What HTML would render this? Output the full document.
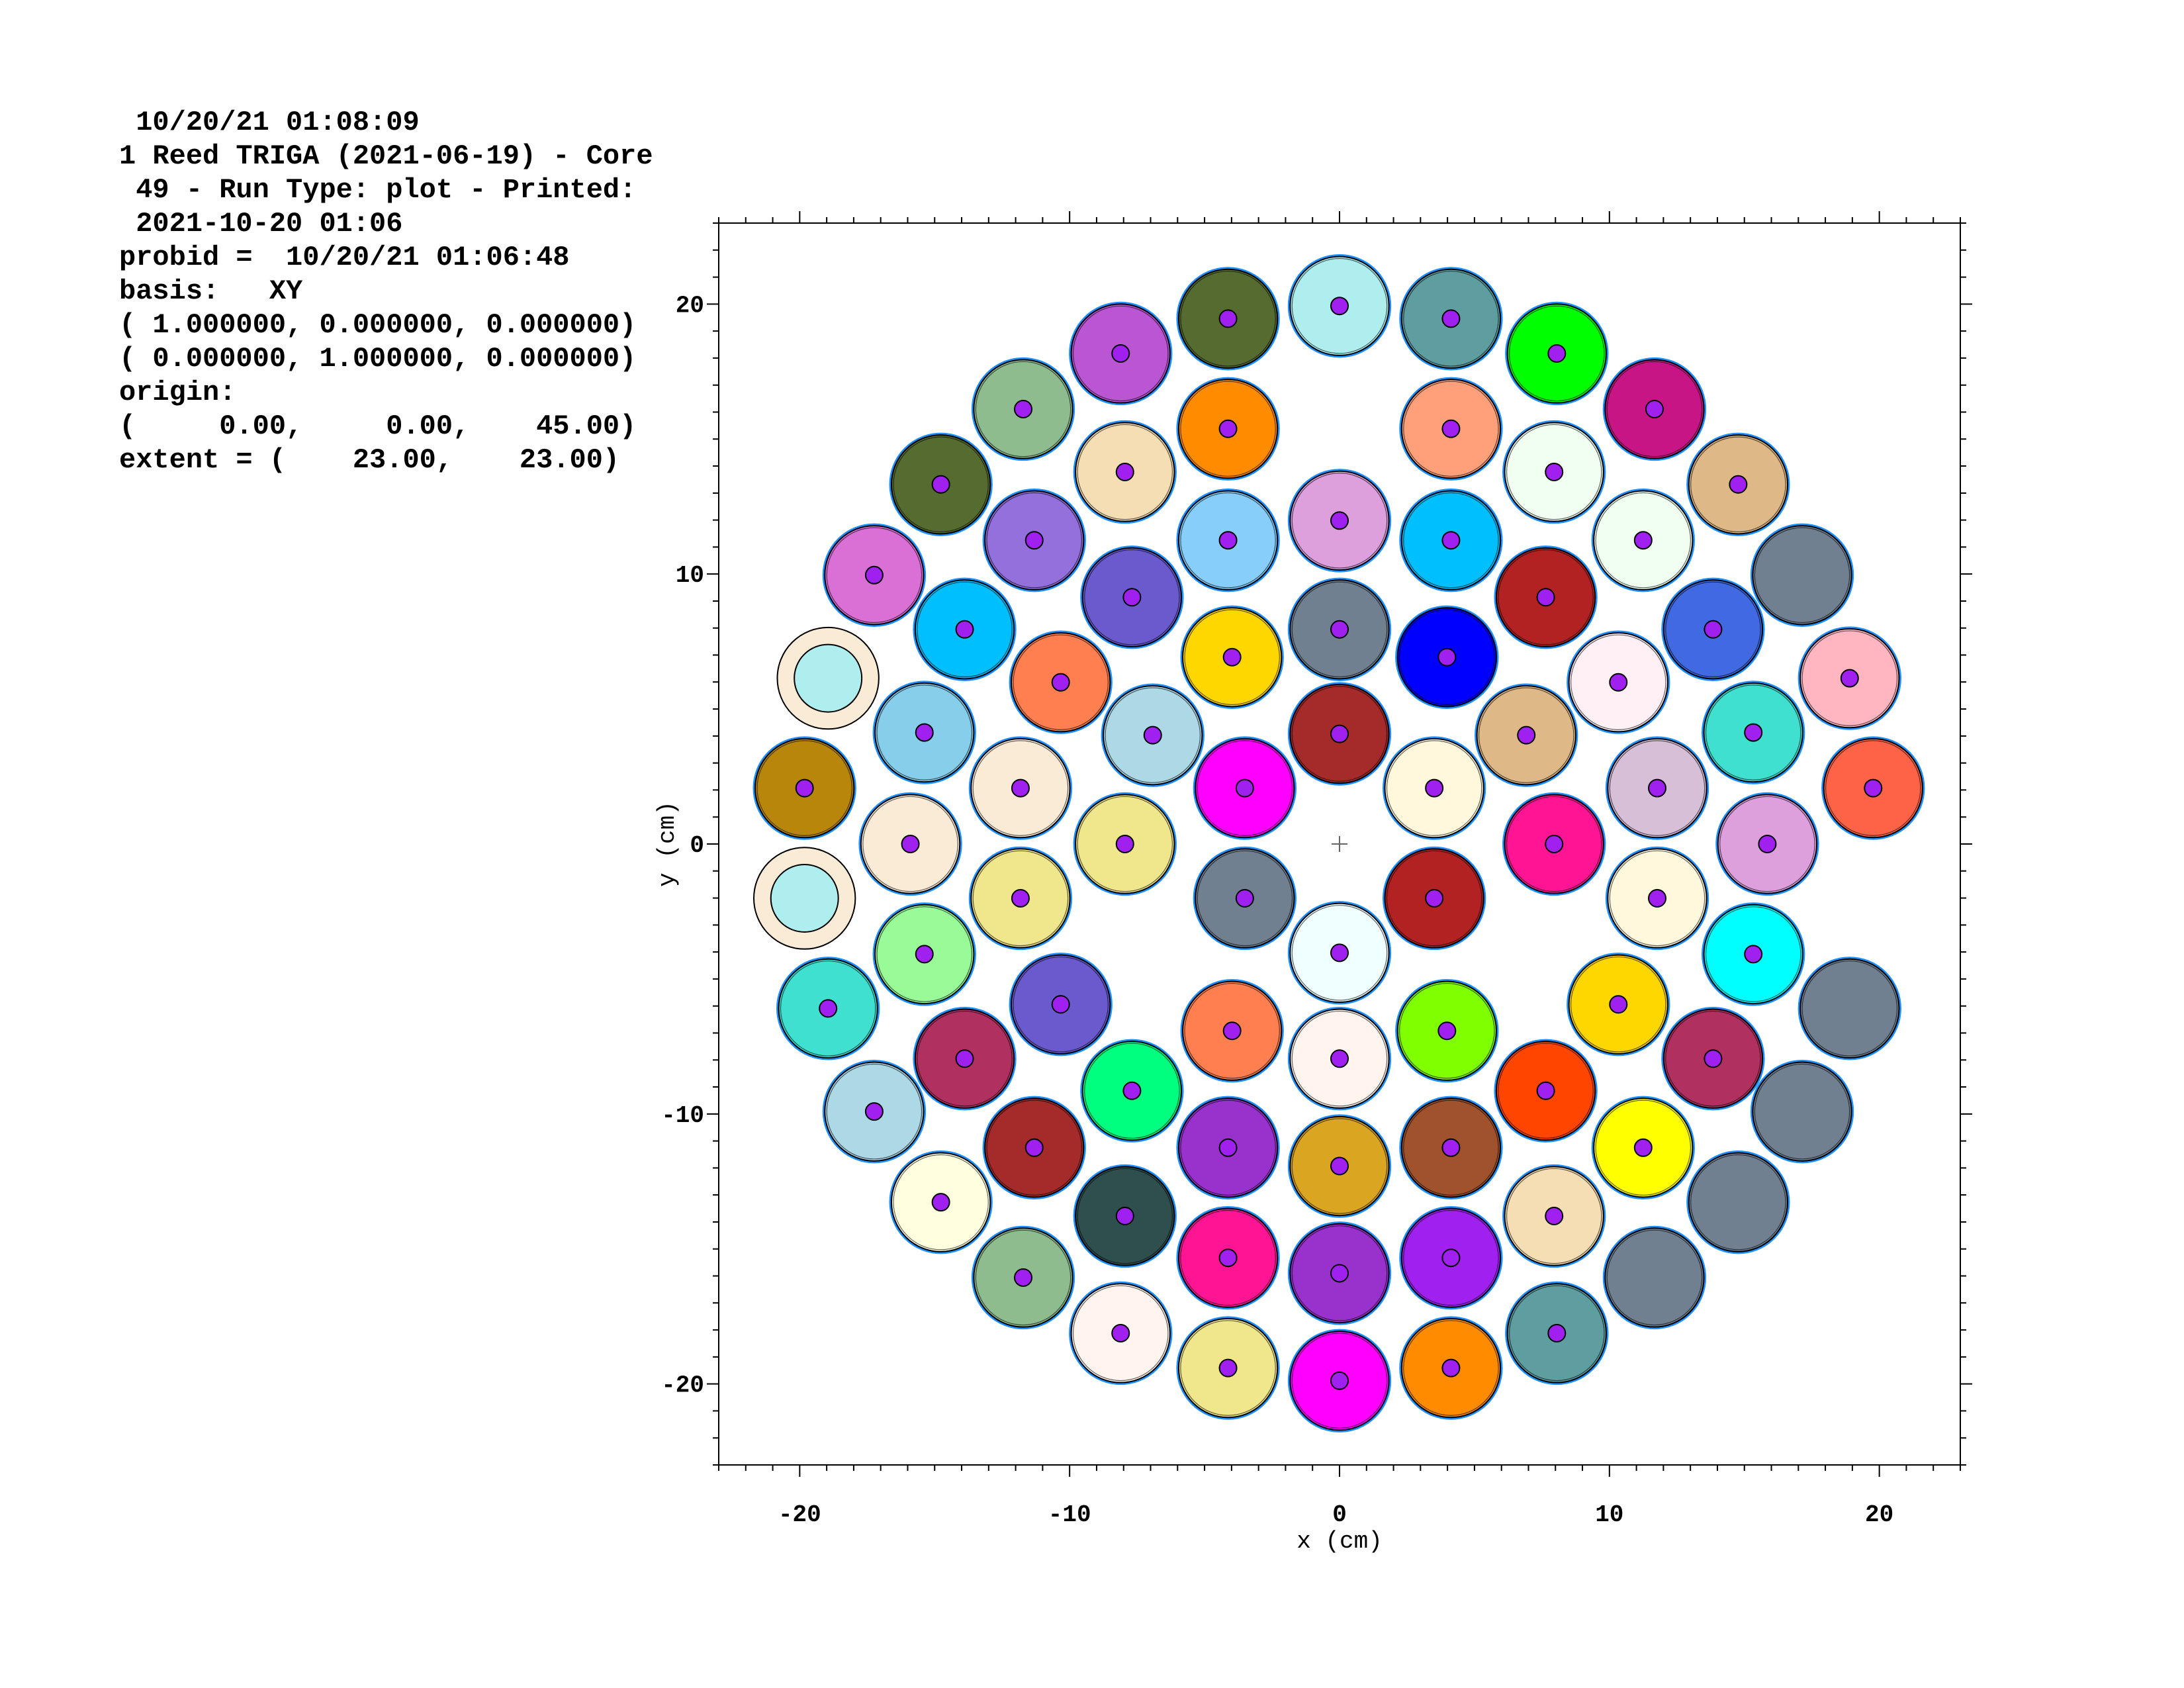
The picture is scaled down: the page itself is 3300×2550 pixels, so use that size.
<!DOCTYPE html>
<html><head><meta charset="utf-8"><style>
html,body{margin:0;padding:0;background:#fff;}
svg{display:block;}
</style></head><body>
<svg id="chart" width="3300" height="2550" viewBox="0 0 3300 2550" xmlns="http://www.w3.org/2000/svg">
<g font-family="'Liberation Mono', monospace" font-weight="bold" font-size="42" fill="#000">
<text x="180" y="196" xml:space="preserve"> 10/20/21 01:08:09</text>
<text x="180" y="247" xml:space="preserve">1 Reed TRIGA (2021-06-19) - Core</text>
<text x="180" y="298" xml:space="preserve"> 49 - Run Type: plot - Printed:</text>
<text x="180" y="349" xml:space="preserve"> 2021-10-20 01:06</text>
<text x="180" y="400" xml:space="preserve">probid =  10/20/21 01:06:48</text>
<text x="180" y="451" xml:space="preserve">basis:   XY</text>
<text x="180" y="502" xml:space="preserve">( 1.000000, 0.000000, 0.000000)</text>
<text x="180" y="553" xml:space="preserve">( 0.000000, 1.000000, 0.000000)</text>
<text x="180" y="604" xml:space="preserve">origin:</text>
<text x="180" y="655" xml:space="preserve">(     0.00,     0.00,    45.00)</text>
<text x="180" y="706" xml:space="preserve">extent = (    23.00,    23.00)</text>
</g>
<g id="axes"></g>
<g id="elements"></g>
</svg>
<script>
const xs = [0,-4.13,4.13,-8.11,8.05,-11.72,11.67,-14.77,14.77,-17.24,17.14,-13.89,13.84,-18.95,18.9,-15.38,15.33,-19.82,19.77,-15.9,15.85,-19.82,18.9,-15.38,15.33,-18.95,-13.89,13.84,-17.24,17.14,-14.77,14.77,-11.72,11.67,-8.11,8.05,-4.13,4.13,0,
-4.13,4.13,-7.95,7.95,-11.31,11.25,0,-4.13,4.13,-7.69,7.64,0,-3.98,3.98,-10.33,10.33,-6.92,6.92,0,-11.82,-3.51,3.51,11.77,-7.95,7.95,-11.82,-3.51,3.51,11.77,0,-10.33,10.33,-3.98,3.98,0,-7.69,7.64,-11.31,-4.13,4.13,11.25,0,-7.95,7.95,-4.13,4.13,0];
const ys = [19.93,19.46,19.46,18.17,18.17,16.11,16.11,13.32,13.32,9.96,9.96,7.95,7.95,6.14,6.14,4.13,4.13,2.07,2.07,0,0,-2.01,-6.09,-4.08,-4.08,-6.09,-7.95,-7.95,-9.91,-9.91,-13.27,-13.27,-16.06,-16.06,-18.12,-18.12,-19.41,-19.41,-19.88,
15.38,15.38,13.78,13.78,11.25,11.25,11.98,11.25,11.25,9.14,9.14,7.95,6.92,6.92,5.99,5.99,4.03,4.03,4.08,2.07,2.07,2.07,2.07,0,0,-2.01,-2.01,-2.01,-2.01,-4.03,-5.94,-5.94,-6.92,-6.92,-7.95,-9.14,-9.14,-11.25,-11.25,-11.25,-11.25,-11.93,-13.78,-13.78,-15.33,-15.33,-15.9];
const fills = ["#AFEEEE","#556B2F","#5F9EA0","#BA55D3","#00FF00","#8FBC8F","#C71585","#556B2F","#DEB887","#DA70D6","#708090","#00BFFF","#4169E1","#FAEBD7","#FFB6C1","#87CEEB","#40E0D0","#B8860B","#FF6347","#FAEBD7","#DDA0DD","#FAEBD7","#708090","#98FB98","#00FFFF","#40E0D0","#B03060","#B03060","#ADD8E6","#708090","#FFFFE0","#708090","#8FBC8F","#708090","#FFF5EE","#5F9EA0","#F0E68C","#FF8C00","#FF00FF",
"#FF8C00","#FFA07A","#F5DEB3","#F0FFF0","#9370DB","#F0FFF0","#DDA0DD","#87CEFA","#00BFFF","#6A5ACD","#B22222","#708090","#FFD700","#0000FF","#FF7F50","#FFF0F5","#ADD8E6","#DEB887","#A52A2A","#FAEBD7","#FF00FF","#FFF8DC","#D8BFD8","#F0E68C","#FF1493","#F0E68C","#708090","#B22222","#FFF8DC","#F0FFFF","#6A5ACD","#FFD700","#FF7F50","#7FFF00","#FFF5EE","#00FF7F","#FF4500","#A52A2A","#9932CC","#A0522D","#FFFF00","#DAA520","#2F4F4F","#F5DEB3","#FF1493","#A020F0","#9932CC"];
// kinds: 0 = fuel with pin, 1 = graphite (no pin), 2 = source/irradiation (inner circle)
const kinds = [0,0,0,0,0,0,0,0,0,0,1,0,0,2,0,0,0,0,0,0,0,2,1,0,0,0,0,0,0,1,0,1,0,1,0,0,0,0,0,
0,0,0,0,0,0,0,0,0,0,0,0,0,0,0,0,0,0,0,0,0,0,0,0,0,0,0,0,0,0,0,0,0,0,0,0,0,0,0,0,0,0,0,0,0,0,0];
const xTicks = [-20,-10,0,10,20];
const yTicks = [-20,-10,0,10,20];
const tickLabels = ["-20","-10","0","10","20"];

const NS="http://www.w3.org/2000/svg";
const L=1086,R=2962,T=337,B=2213,EXT=23;
const X=v=>L+(v+EXT)/(2*EXT)*(R-L);
const Y=v=>B-(v+EXT)/(2*EXT)*(B-T);
const S=(R-L)/(2*EXT);
function mk(tag,attrs,parent){const e=document.createElementNS(NS,tag);for(const k in attrs)e.setAttribute(k,attrs[k]);parent.appendChild(e);return e;}
const ax=document.getElementById('axes');
const frame=mk('rect',{x:L,y:T,width:R-L,height:B-T,fill:'none',stroke:'#000','stroke-width':2},ax);


let d='';
for(let v=-EXT;v<=EXT;v++){
  const maj=xTicks.indexOf(v)>=0; const len=maj?18:9;
  const px=X(v), py=Y(v);
  d+=`M${px},${B}v${len}M${px},${T}v${-len}M${L},${py}h${-len}M${R},${py}h${len}`;
}
const tk=mk('path',{d:d,stroke:'#000','stroke-width':2,fill:'none'},ax);


xTicks.forEach((v,i)=>{
  const t=mk('text',{x:X(v),y:2298,'text-anchor':'middle','font-family':"'Liberation Mono', monospace",'font-weight':'bold','font-size':36},ax);
  t.textContent=tickLabels[i];
  
  
});
yTicks.forEach((v,i)=>{
  const t=mk('text',{x:1064,y:Y(v)+12,'text-anchor':'end','font-family':"'Liberation Mono', monospace",'font-weight':'bold','font-size':36},ax);
  t.textContent=tickLabels[i];
  
  
});
const xl=mk('text',{x:X(0),y:2338,'text-anchor':'middle','font-family':"'Liberation Mono', monospace",'font-size':36},ax);
xl.textContent='x (cm)';


const yl=mk('text',{x:0,y:0,'text-anchor':'middle','font-family':"'Liberation Mono', monospace",'font-size':36,transform:`translate(1018,${Y(0)}) rotate(-90)`},ax);
yl.textContent='y (cm)';


const cp=mk('path',{d:`M${X(0)-12},${Y(0)}h24M${X(0)},${Y(0)-12}v24`,stroke:'#666','stroke-width':2},ax);



const el=document.getElementById('elements');
const rOut=1.88;
xs.forEach((xv,i)=>{
  const cx=X(xv), cy=Y(ys[i]);
  const g=mk('g',{},el);
  
  
  if(kinds[i]===2){
    mk('circle',{cx:cx,cy:cy,r:rOut*S,fill:fills[i],stroke:'#000','stroke-width':2},g);
    mk('circle',{cx:cx,cy:cy,r:1.25*S,fill:'#AFEEEE',stroke:'#000','stroke-width':2},g);
    return;
  }
  mk('circle',{cx:cx,cy:cy,r:rOut*S,fill:'#8FBC8F',stroke:'#1E90FF','stroke-width':3},g);
  mk('circle',{cx:cx,cy:cy,r:rOut*S-2,fill:fills[i],stroke:'#000','stroke-width':2},g);
  mk('circle',{cx:cx,cy:cy,r:rOut*S-5,fill:'none',stroke:'#000','stroke-width':1.2,opacity:0.6},g);
  if(kinds[i]===0){
    const p=mk('circle',{cx:cx,cy:cy,r:13,fill:'#A020F0',stroke:'#000','stroke-width':2},g);
    
    
  }
});
</script>
</body></html>
